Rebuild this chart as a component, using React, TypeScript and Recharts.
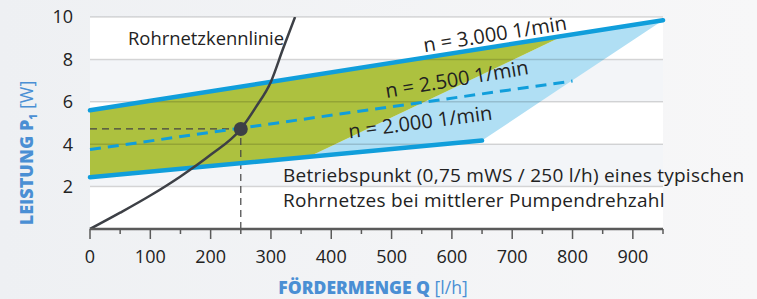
import {
  Area,
  ComposedChart,
  Line,
  ReferenceArea,
  ReferenceDot,
  ReferenceLine,
  XAxis,
  YAxis,
} from "recharts";

// Q [l/h] / P1 [W]
const xTicks = [0, 50, 100, 150, 200, 250, 300, 350, 400, 450, 500, 550, 600, 650, 700, 750, 800, 850, 900, 950];
const yTicks = [2, 4, 6, 8, 10];

const line3000 = [
  { q: 0, p: 5.6 },
  { q: 950, p: 9.85 },
];
const line2500 = [
  { q: 0, p: 3.75 },
  { q: 800, p: 6.98 },
];
const line2000 = [
  { q: 0, p: 2.44 },
  { q: 650, p: 4.17 },
];

// green band: [low, high]
const greenBand = [
  { q: 0, range: [2.44, 5.6] },
  { q: 362, range: [3.4, 7.22] },
  { q: 785, range: [9.11, 9.11] },
];
// light blue band: [low, high]
const blueBand = [
  { q: 362, range: [3.4, 3.4] },
  { q: 650, range: [4.17, 7.29] },
  { q: 785, range: [6.73, 9.11] },
  { q: 950, range: [9.85, 9.85] },
];

const pipeCurve = [
  { q: 0, p: 0 },
  { q: 50, p: 0.77 },
  { q: 100, p: 1.58 },
  { q: 150, p: 2.48 },
  { q: 200, p: 3.5 },
  { q: 250, p: 4.72 },
  { q: 275, p: 5.75 },
  { q: 300, p: 6.95 },
  { q: 320, p: 8.5 },
  { q: 340, p: 10.0 },
];

const opPoint = { q: 250, p: 4.72 };

const BLUE = "#109edb";
const TITLE = "#4a8fd4";
const FONT = "'Open Sans', sans-serif";

const XTick = ({ x, y, payload }: any) => {
  const v = payload.value;
  const major = v % 100 === 0;
  return (
    <g>
      <line x1={x} y1={y} x2={x} y2={y + (major ? 10 : 5)} stroke="#5a5a5a" strokeWidth={1.5} />
      {major && v <= 900 && (
        <text x={x} y={y + 34} textAnchor="middle" fontSize={18} fontFamily={FONT} fill="#222">
          {v}
        </text>
      )}
    </g>
  );
};

export default function App() {
  return (
    <div
      style={{
        position: "absolute",
        left: 0,
        top: 0,
        width: 757,
        height: 299,
        background: "linear-gradient(90deg, #eef0f3, #f7f7f8)",
      }}
    >
      <ComposedChart width={757} height={299} margin={{ top: 17, right: 94, bottom: 0, left: 0 }}>
        <XAxis
          dataKey="q"
          type="number"
          domain={[0, 950]}
          ticks={xTicks}
          interval={0}
          tick={<XTick />}
          tickLine={false}
          tickSize={0}
          tickMargin={0}
          height={70}
          axisLine={{ stroke: "#5a5a5a", strokeWidth: 2.5 }}
          allowDuplicatedCategory={false}
        />
        <YAxis
          type="number"
          domain={[0, 10]}
          ticks={yTicks}
          width={90}
          axisLine={false}
          tickLine={false}
          tickSize={0}
          tickMargin={17}
          allowDataOverflow
          tick={{ fill: "#222", fontSize: 18, fontFamily: FONT }}
        />
        <ReferenceArea x1={0} x2={950} y1={0} y2={10} fill="#ffffff" fillOpacity={1} stroke="none" />
        <ReferenceArea x1={0} x2={950} y1={6} y2={8} fill="#f3f5f8" fillOpacity={1} stroke="none" />
        <ReferenceArea x1={0} x2={950} y1={2} y2={4} fill="#f3f5f8" fillOpacity={1} stroke="none" />

        <Area data={blueBand} dataKey="range" type="linear" fill="#b0dff4" fillOpacity={1} stroke="none" isAnimationActive={false} />
        <Area data={greenBand} dataKey="range" type="linear" fill="#adc13f" fillOpacity={1} stroke="none" isAnimationActive={false} />

        {yTicks.map((t) => (
          <ReferenceLine key={t} y={t} stroke="rgba(0,0,0,0.15)" strokeWidth={1.5} />
        ))}

        <ReferenceLine
          segment={[{ x: 0, y: opPoint.p }, { x: opPoint.q, y: opPoint.p }]}
          stroke="#444"
          strokeWidth={1.2}
          strokeDasharray="7 5"
        />
        <ReferenceLine
          segment={[{ x: opPoint.q, y: 0 }, { x: opPoint.q, y: opPoint.p }]}
          stroke="#444"
          strokeWidth={1.2}
          strokeDasharray="7 5"
        />

        <Line data={line2000} dataKey="p" type="linear" stroke={BLUE} strokeWidth={4.5} strokeLinecap="round" dot={false} isAnimationActive={false} />
        <Line data={line3000} dataKey="p" type="linear" stroke={BLUE} strokeWidth={4.5} strokeLinecap="round" dot={false} isAnimationActive={false} />
        <Line data={line2500} dataKey="p" type="linear" stroke={BLUE} strokeWidth={3} strokeDasharray="11 7" dot={false} isAnimationActive={false} />
        <Line data={pipeCurve} dataKey="p" type="monotone" stroke="#3d4046" strokeWidth={2.5} dot={false} isAnimationActive={false} />
        <ReferenceDot x={opPoint.q} y={opPoint.p} r={7} fill="#3d4046" stroke="none" />
      </ComposedChart>

      <svg width={757} height={299} style={{ position: "absolute", left: 0, top: 0, pointerEvents: "none" }} fontFamily={FONT}>
        <text x={128} y={45} fontSize={18.4} fill="#222">Rohrnetzkennlinie</text>
        <text x={496} y={41} fontSize={20} fill="#222" textAnchor="middle" transform="rotate(-9 496 41)">n = 3.000 1/min</text>
        <text x={458} y={86} fontSize={20} fill="#222" textAnchor="middle" transform="rotate(-9.5 458 86)">n = 2.500 1/min</text>
        <text x={421} y={129} fontSize={20} fill="#222" textAnchor="middle" transform="rotate(-7.5 421 129)">n = 2.000 1/min</text>
        <text x={283} y={182} fontSize={19} letterSpacing={0.25} fill="#222">Betriebspunkt (0,75 mWS / 250 l/h) eines typischen</text>
        <text x={283} y={207} fontSize={19} letterSpacing={0.25} fill="#222">Rohrnetzes bei mittlerer Pumpendrehzahl</text>
        <text x={373} y={294} fontSize={17.5} fill={TITLE} textAnchor="middle">
          <tspan fontWeight={800}>FÖRDERMENGE Q </tspan>
          <tspan>[l/h]</tspan>
        </text>
        <text x={33} y={153} fontSize={18} fill={TITLE} textAnchor="middle" transform="rotate(-90 33 153)">
          <tspan fontWeight={800}>LEISTUNG P</tspan>
          <tspan fontSize={10} fontWeight={800} dy={4}>1</tspan>
          <tspan dy={-4}> [W]</tspan>
        </text>
      </svg>
    </div>
  );
}
